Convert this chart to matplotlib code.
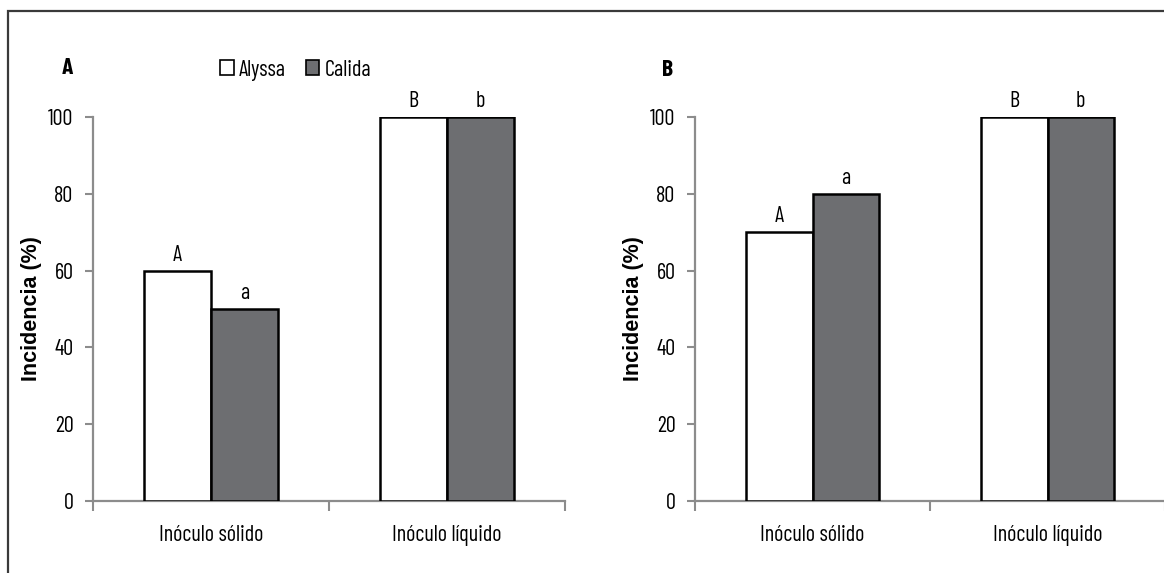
import matplotlib
matplotlib.use("Agg")
import matplotlib.pyplot as plt
from matplotlib.patches import Patch, Rectangle
import numpy as np

categories = ["Inóculo sólido", "Inóculo líquido"]
series_names = ["Alyssa", "Calida"]
alyssa_A = [60, 100]
calida_A = [50, 100]
alyssa_B = [70, 100]
calida_B = [80, 100]
letters_alyssa = ["A", "B"]
letters_calida = ["a", "b"]
yticks = [0, 20, 40, 60, 80, 100]
ylabel = "Incidencia (%)"

NARROW = ["Barlow Condensed", "DejaVu Sans"]
BOLD = ["Liberation Sans", "DejaVu Sans"]
GRAY = "#6d6e71"
AXC = "#8c8c8c"
FS = 16
FW = 400

fig = plt.figure(figsize=(11.64, 5.73), dpi=100)
W, H = 1164, 573

# figure frame (left and top lines)
fig.add_artist(Rectangle((8 / W, -0.1), 1.2, 1.1 - 11 / H, transform=fig.transFigure,
                         fill=False, edgecolor="#3a3a3a", lw=1.6))

def panel(left_px, right_px, alyssa, calida, label, label_px, with_legend):
    bottom = 1 - 501 / H
    top = 1 - 117 / H
    ax = fig.add_axes([left_px / W, bottom, (right_px - left_px) / W, top - bottom])
    x = np.arange(len(categories))
    bw = 0.284
    ax.bar(x - bw / 2, alyssa, bw, color="white", edgecolor="black", lw=1.8, zorder=3)
    ax.bar(x + bw / 2, calida, bw, color=GRAY, edgecolor="black", lw=1.8, zorder=3)
    for xi, v, t in zip(x, alyssa, letters_alyssa):
        ax.annotate(t, (xi - bw / 2, v), xytext=(0, 3.5), textcoords="offset points",
                    ha="center", va="bottom", fontsize=FS, family=NARROW, fontweight=FW)
    for xi, v, t in zip(x, calida, letters_calida):
        ax.annotate(t, (xi + bw / 2, v), xytext=(0, 3.5), textcoords="offset points",
                    ha="center", va="bottom", fontsize=FS, family=NARROW, fontweight=FW)
    ax.set_xlim(-0.5, 1.5)
    ax.set_ylim(0, 100)
    ax.set_yticks(yticks)
    ax.set_yticklabels([str(t) for t in yticks], family=NARROW, fontsize=FS, fontweight=FW)
    ax.set_xticks([-0.5, 0.5, 1.5])
    ax.set_xticklabels([])
    ax.set_xticks(x, minor=True)
    ax.set_xticklabels(categories, minor=True, family=NARROW, fontsize=FS, fontweight=FW)
    ax.tick_params(axis="x", which="minor", length=0, pad=17)
    ax.tick_params(axis="x", which="major", length=7, width=1.5, color=AXC, direction="out")
    ax.tick_params(axis="y", length=6, width=1.5, color=AXC, direction="out", pad=8)
    for s in ["top", "right"]:
        ax.spines[s].set_visible(False)
    for s in ["left", "bottom"]:
        ax.spines[s].set_color(AXC)
        ax.spines[s].set_linewidth(1.6)
    ax.set_ylabel(ylabel, family=BOLD, fontweight="bold", fontsize=15.5)
    ax.yaxis.set_label_coords(-0.108, 0.5)
    ax.set_facecolor("none")
    fig.text(label_px[0] / W, 1 - label_px[1] / H, label, family=NARROW, fontweight="bold",
             fontsize=17, ha="center", va="center")
    if with_legend:
        handles = [Patch(facecolor="white", edgecolor="black", lw=1.2),
                   Patch(facecolor=GRAY, edgecolor="black", lw=1.2)]
        ax.legend(handles, series_names, loc="center", bbox_to_anchor=(0.430, 1.122),
                  ncol=2, frameon=False, handlelength=0.6, handleheight=0.65,
                  handletextpad=0.25, columnspacing=0.9, borderaxespad=0,
                  prop={"family": NARROW, "size": FS, "weight": FW})
    return ax

panel(93, 565, alyssa_A, calida_A, "A", (67, 68), True)
panel(695, 1165, alyssa_B, calida_B, "B", (668, 70), False)

fig.savefig("out.png", dpi=100)
